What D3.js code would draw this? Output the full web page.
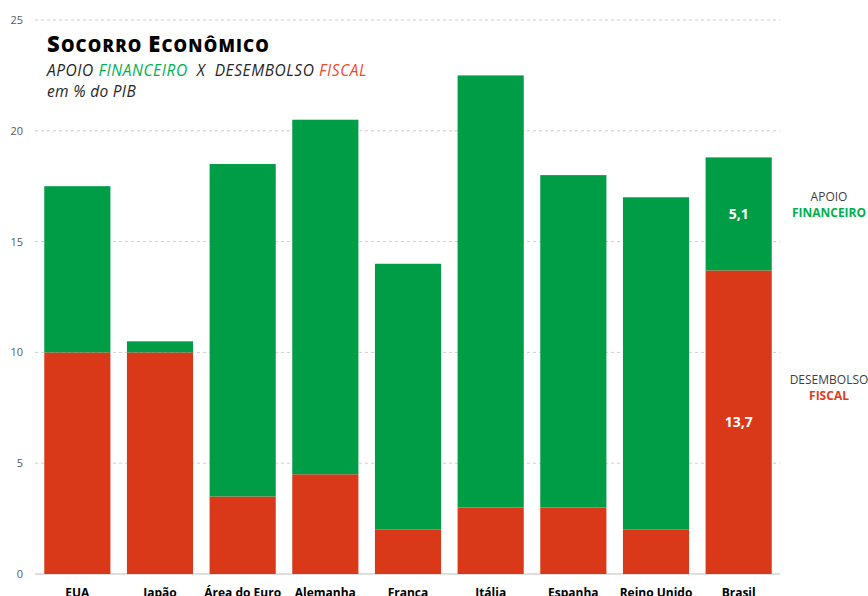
<!DOCTYPE html>
<html><head><meta charset="utf-8">
<script src="https://cdn.jsdelivr.net/npm/d3@7"></script>
<style>body{margin:0;background:#fff;}text{font-family:"Open Sans","Noto Sans",sans-serif;}</style>
</head><body><svg id="c" width="868" height="596"></svg>
<script>
const categories = ["EUA","Japão","Área do Euro","Alemanha","França","Itália","Espanha","Reino Unido","Brasil"];
const fiscal = [10, 10, 3.5, 4.5, 2, 3, 3, 2, 13.7];
const financeiro = [7.5, 0.5, 15, 16, 12, 19.5, 15, 15, 5.1];
const yTicks = [0,5,10,15,20,25];

const GREEN = "#009D47", RED = "#D93918";
const svg = d3.select("#c");
const x = d3.scaleBand().domain(categories).range([36,780]).paddingInner(0.2).paddingOuter(0.1);
const y = d3.scaleLinear().domain([0,25]).range([574,20]);

// grid
svg.append("g").selectAll("line").data(yTicks.filter(d=>d>0)).join("line")
  .attr("x1",35).attr("x2",780).attr("y1",d=>y(d)).attr("y2",d=>y(d))
  .attr("stroke","#d0d0d0").attr("stroke-dasharray","3,3");
svg.append("line").attr("x1",35).attr("x2",780).attr("y1",y(0)).attr("y2",y(0)).attr("stroke","#bfbfbf");

// y labels
const ya = svg.append("g").attr("transform","translate(23,0)").call(d3.axisLeft(y).tickValues(yTicks).tickSize(0).tickPadding(0));
ya.select(".domain").remove();
ya.selectAll("text").attr("font-size",11).attr("fill","#595959").style("font-family","'Open Sans',sans-serif");

// bars
const data = categories.map((c,i)=>({c, f:fiscal[i], g:financeiro[i]}));
svg.append("g").selectAll("rect").data(data).join("rect")
  .attr("x",d=>x(d.c)).attr("width",x.bandwidth())
  .attr("y",d=>y(d.f)).attr("height",d=>y(0)-y(d.f)).attr("fill",RED);
svg.append("g").selectAll("rect").data(data).join("rect")
  .attr("x",d=>x(d.c)).attr("width",x.bandwidth())
  .attr("y",d=>y(d.f+d.g)).attr("height",d=>y(d.f)-y(d.f+d.g)).attr("fill",GREEN);

// x labels
const xa = svg.append("g").attr("transform",`translate(0,${y(0)})`).call(d3.axisBottom(x).tickSize(0).tickPadding(14));
xa.select(".domain").remove();
xa.selectAll("text").attr("font-size",12).attr("font-weight","bold").attr("fill","#000").style("font-family","'Open Sans',sans-serif");

// Brasil values
const br = data[8];
const fmt = v => String(v).replace(".",",");
svg.append("text").attr("x",x(br.c)+x.bandwidth()/2).attr("y",(y(br.f)+y(br.f+br.g))/2+5)
  .attr("text-anchor","middle").attr("fill","#fff").attr("font-weight","bold").attr("font-size",14).text(fmt(br.g));
svg.append("text").attr("x",x(br.c)+x.bandwidth()/2).attr("y",(y(0)+y(br.f))/2+5)
  .attr("text-anchor","middle").attr("fill","#fff").attr("font-weight","bold").attr("font-size",14).text(fmt(br.f));

// right labels
const rl = (t1,t2,col,yy)=>{
  svg.append("text").attr("x",829).attr("y",yy).attr("text-anchor","middle").attr("font-size",12).attr("fill","#404040").text(t1);
  svg.append("text").attr("x",829).attr("y",yy+16).attr("text-anchor","middle").attr("font-size",12).attr("font-weight","bold").attr("fill",col).text(t2);
};
rl("APOIO","FINANCEIRO","#00B050",201);
rl("DESEMBOLSO","FISCAL","#E23B1C",384);

function fitWidth(sel, target){
  const node = sel.node();
  const n = node.textContent.length;
  const w = node.getComputedTextLength();
  sel.attr("letter-spacing", ((target - w)/n).toFixed(2));
}

// title
const t = svg.append("text").attr("x",47).attr("y",52).attr("font-weight",800).attr("fill","#000");
t.append("tspan").attr("font-size",22).text("S");
t.append("tspan").attr("font-size",17).text("OCORRO ");
t.append("tspan").attr("font-size",22).text("E");
t.append("tspan").attr("font-size",17).text("CONÔMICO");
fitWidth(t, 223);

const s = svg.append("text").attr("x",47).attr("y",76).attr("font-size",15.5).attr("font-style","italic").attr("fill","#262626");
s.append("tspan").text("APOIO ");
s.append("tspan").attr("fill","#00B050").text("FINANCEIRO");
s.append("tspan").attr("xml:space","preserve").text("  X  DESEMBOLSO ");
s.append("tspan").attr("fill","#F04A2E").text("FISCAL");
fitWidth(s, 320);
const e = svg.append("text").attr("x",47).attr("y",97).attr("font-size",15.5).attr("font-style","italic").attr("fill","#262626").text("em % do PIB");
fitWidth(e, 89);
</script></body></html>
